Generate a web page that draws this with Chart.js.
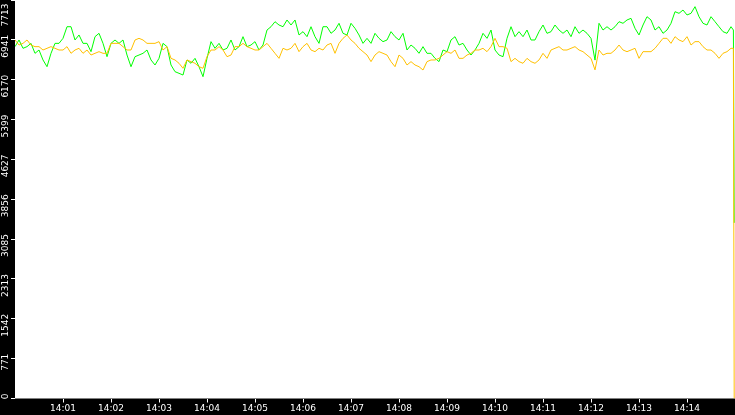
<!DOCTYPE html>
<html>
<head>
<meta charset="utf-8">
<script src="https://cdn.jsdelivr.net/npm/chart.js@4.4.1/dist/chart.umd.min.js"></script>
<style>
html, body { margin: 0; padding: 0; background: #000; }
#wrap { width: 735px; height: 415px; }
</style>
</head>
<body>
<div id="wrap"><canvas id="chart"></canvas></div>
<script>
// y axis ticks and x axis (seconds after 14:00:00) ticks
const yTickValues = [0, 771, 1542, 2313, 3085, 3856, 4627, 5399, 6170, 6941, 7713];
const xTickSeconds = [60, 120, 180, 240, 300, 360, 420, 480, 540, 600, 660, 720, 780, 840];
const xTickLabels = ['14:01', '14:02', '14:03', '14:04', '14:05', '14:06', '14:07', '14:08', '14:09', '14:10', '14:11', '14:12', '14:13', '14:14'];

// one sample every 5 seconds, last two samples at 898s and 899s
const sampleStep = 5;
const endSeconds = [898, 899];

const green = [
    6810, 6939, 6778, 6810, 6874, 6681, 6745, 6552, 6422, 6681, 6874, 6874, 6971, 7196, 7196, 6939, 7036, 6874, 6874, 6713, 7003, 7068, 6874, 6616, 6874, 6939, 6874, 6939, 6648, 6422,
    6616, 6648, 6681, 6745, 6552, 6455, 6584, 6874, 6810, 6455, 6326, 6294, 6261, 6552, 6488, 6584, 6422, 6229, 6584, 6907, 6778, 6874, 6745, 6778, 6939, 6745, 6810, 7003, 6810, 6842,
    6907, 6745, 6842, 7132, 7196, 7293, 7229, 7196, 7326, 7229, 7326, 7036, 7100, 7003, 7196, 7003, 6874, 7196, 7196, 7068, 7132, 7262, 7068, 7036, 7262, 7165, 7036, 6874, 6971, 6874,
    7068, 6971, 6907, 6939, 7100, 7003, 6939, 7068, 6745, 6842, 6778, 6681, 6810, 6681, 6681, 6584, 6520, 6745, 6713, 6939, 7003, 6842, 6874, 6745, 6648, 6745, 6874, 7068, 6971, 7132,
    6745, 6648, 6616, 6971, 7196, 7003, 7100, 7003, 7132, 6939, 6939, 7100, 7229, 7068, 7100, 7229, 7132, 7068, 7132, 7003, 7196, 7068, 7132, 7068, 6971, 6550, 7262, 7132, 7196, 7132,
    7196, 7293, 7262, 7326, 7358, 7165, 7036, 7229, 7390, 7326, 7132, 7196, 7068, 7132, 7262, 7487, 7455, 7519, 7423, 7455, 7584, 7390, 7262, 7229, 7390, 7293, 7196, 7100, 7068, 7196,
    7132, 3400
];
const orange = [
    6939, 6842, 6874, 6939, 6842, 6810, 6810, 6745, 6778, 6810, 6778, 6745, 6745, 6810, 6681, 6745, 6778, 6681, 6745, 6648, 6681, 6713, 6681, 6681, 6874, 6874, 6874, 6810, 6745, 6745,
    6939, 6971, 6939, 6874, 6874, 6874, 6907, 6745, 6810, 6584, 6552, 6488, 6391, 6552, 6520, 6488, 6422, 6391, 6616, 6745, 6745, 6810, 6745, 6616, 6648, 6810, 6810, 6874, 6810, 6778,
    6745, 6745, 6810, 6874, 6778, 6681, 6584, 6778, 6745, 6778, 6874, 6713, 6810, 6874, 6745, 6713, 6778, 6745, 6842, 6874, 6681, 6874, 6971, 7036, 6939, 6874, 6778, 6713, 6648, 6520,
    6648, 6713, 6681, 6648, 6520, 6422, 6648, 6584, 6455, 6520, 6455, 6422, 6358, 6520, 6552, 6552, 6584, 6648, 6713, 6681, 6745, 6584, 6584, 6648, 6681, 6745, 6745, 6778, 6713, 6810,
    6971, 6810, 6810, 6778, 6520, 6584, 6520, 6488, 6584, 6520, 6488, 6552, 6681, 6584, 6745, 6778, 6810, 6745, 6745, 6778, 6810, 6745, 6713, 6648, 6584, 6360, 6745, 6648, 6681, 6681,
    6745, 6842, 6745, 6713, 6745, 6778, 6584, 6713, 6713, 6713, 6778, 6874, 6971, 6971, 6874, 7003, 6939, 6907, 7003, 6842, 6907, 6907, 6810, 6745, 6745, 6681, 6584, 6681, 6713, 6778,
    6778, 0
];

function timeOf(i, n) {
    return i < n - endSeconds.length ? i * sampleStep : endSeconds[i - (n - endSeconds.length)];
}
function toPoints(values) {
    return values.map((v, i) => ({ x: timeOf(i, values.length), y: v }));
}

const background = {
    id: 'background',
    beforeDraw(chart) {
        const { ctx, chartArea: a, width, height } = chart;
        ctx.save();
        ctx.fillStyle = '#000';
        ctx.fillRect(0, 0, width, height);
        ctx.fillStyle = '#fff';
        ctx.fillRect(a.left, a.top, a.right - a.left, a.bottom - a.top);
        ctx.restore();
    }
};

const tickFont = { family: 'DejaVu Sans', size: 9 };

const config = {
    type: 'line',
    data: {
        datasets: [
            {
                label: 'orange',
                data: toPoints(orange),
                borderColor: '#ffc000',
                borderWidth: 1,
                pointRadius: 0,
                tension: 0
            },
            {
                label: 'green',
                data: toPoints(green),
                borderColor: '#00ff00',
                borderWidth: 1,
                pointRadius: 0,
                tension: 0
            }
        ]
    },
    options: {
        responsive: true,
        maintainAspectRatio: false,
        animation: false,
        layout: { padding: 0 },
        plugins: {
            legend: { display: false },
            tooltip: { enabled: false }
        },
        scales: {
            x: {
                type: 'linear',
                min: 0,
                max: 900,
                afterBuildTicks: s => { s.ticks = xTickSeconds.map(v => ({ value: v })); },
                afterFit: s => { s.height = 16.5; s.paddingLeft = 0; s.paddingRight = 0; },
                border: { display: false },
                grid: { drawOnChartArea: false, drawTicks: true, tickLength: 4, color: '#fff' },
                ticks: {
                    color: '#fff',
                    font: tickFont,
                    padding: 1,
                    autoSkip: false,
                    maxRotation: 0,
                    callback: (v, i) => xTickLabels[i]
                }
            },
            y: {
                type: 'linear',
                min: 0,
                max: 7713,
                afterBuildTicks: s => { s.ticks = yTickValues.map(v => ({ value: v })); },
                afterFit: s => { s.width = 15; s.paddingTop = 0; s.paddingBottom = 0; },
                border: { display: false },
                grid: { drawOnChartArea: false, drawTicks: true, tickLength: 4, color: '#fff' },
                ticks: {
                    color: '#fff',
                    font: tickFont,
                    padding: 5,
                    minRotation: 90,
                    maxRotation: 90,
                    labelOffset: -5,
                    autoSkip: false,
                    // top label pushed down so it stays inside the canvas
                    callback: (v, i, ticks) => i === ticks.length - 1 ? String(v) + '   ' : String(v)
                }
            }
        }
    },
    plugins: [background]
};

const chart = new Chart(document.getElementById('chart'), config);
</script>
</body>
</html>
